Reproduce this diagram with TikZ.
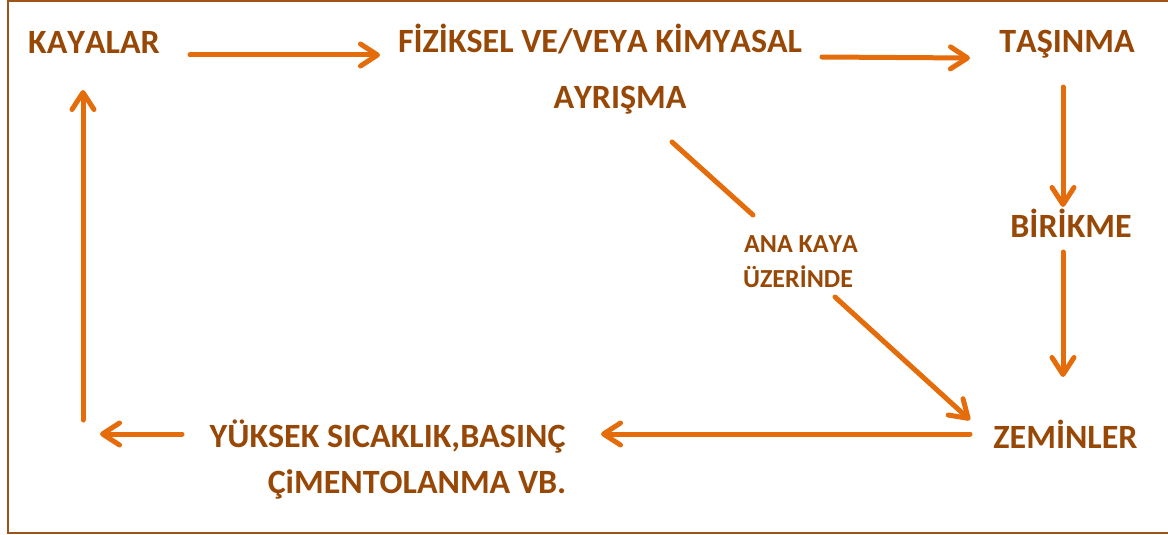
\documentclass[tikz,border=0pt]{standalone}
\usepackage{fontspec}
\setmainfont{Carlito}[Kerning=Off]
\usetikzlibrary{arrows.meta}
\definecolor{flow}{HTML}{E46C0A}
\definecolor{ink}{HTML}{984806}
\definecolor{frame}{HTML}{9C5418}
\begin{document}
\begin{tikzpicture}[x=1pt,y=-1pt,
  stage/.style={anchor=base,inner sep=0pt,text=ink,font=\bfseries\fontsize{34}{40}\selectfont},
  note/.style={anchor=base,inner sep=0pt,text=ink,font=\bfseries\fontsize{26}{31}\selectfont},
  arr/.style={draw=flow,line width=5pt,line cap=round,line join=round,
    -{Straight Barb[length=17pt,width=22pt,line cap=round,line join=round]}},
  link/.style={draw=flow,line width=5pt,line cap=round}]
  \useasboundingbox (0,0) rectangle (1168,535);
  % outer frame, open on the right
  \draw[frame,line width=2pt] (1168,1) -- (8,1) -- (8,533) -- (1168,533);

  % stages of the rock cycle
  \node[stage] (kay) at (94,54)     {KAYALAR};
  \node[stage] (fiz) at (600,53)    {FİZİKSEL VE/VEYA KİMYASAL};
  \node[stage] (ayr) at (620,108)   {AYRIŞMA};
  \node[stage] (tas) at (1067,53)   {TAŞINMA};
  \node[stage] (bir) at (1071,237)  {BİRİKME};
  \node[stage] (zem) at (1065.5,448){ZEMİNLER};
  \node[stage] (yuk) at (387.5,447) {YÜKSEK SICAKLIK,BASINÇ};
  \node[stage] (cim) at (417,493)   {ÇiMENTOLANMA VB.};
  \node[note]  (ana) at (801,252)   {ANA KAYA};
  \node[note]  (uze) at (798,287)   {ÜZERİNDE};

  % loose ends of the return path
  \coordinate (back) at (100,434);
  \coordinate (rise) at (83,420);

  % connectors
  \draw[arr] ([xshift=96pt,yshift=-1pt]kay.base) -- ([xshift=-220pt,yshift=-2pt]fiz.base);
  \draw[arr] ([xshift=222pt,yshift=-4pt]fiz.base) -- ([xshift=-97pt,yshift=-5pt]tas.base);
  \draw[arr] ([xshift=-4pt,yshift=-34pt]tas.base) -- ([xshift=-8pt,yshift=30pt]bir.base);
  \draw[arr] ([xshift=-8pt,yshift=-15pt]bir.base) -- ([xshift=-2.5pt,yshift=71pt]zem.base);
  \draw[link] ([xshift=52pt,yshift=-34pt]ayr.base) -- ([xshift=-48pt,yshift=37pt]ana.base);
  \draw[arr] ([xshift=37pt,yshift=-10pt]uze.base) -- ([xshift=-95.5pt,yshift=28pt]zem.base);
  \draw[arr] ([xshift=-95.5pt,yshift=14pt]zem.base) -- ([xshift=213.5pt,yshift=13pt]yuk.base);
  \draw[arr] ([xshift=-205.5pt,yshift=13pt]yuk.base) -- (back);
  \draw[arr] (rise) -- ([xshift=-11pt,yshift=-36pt]kay.base);
\end{tikzpicture}
\end{document}
